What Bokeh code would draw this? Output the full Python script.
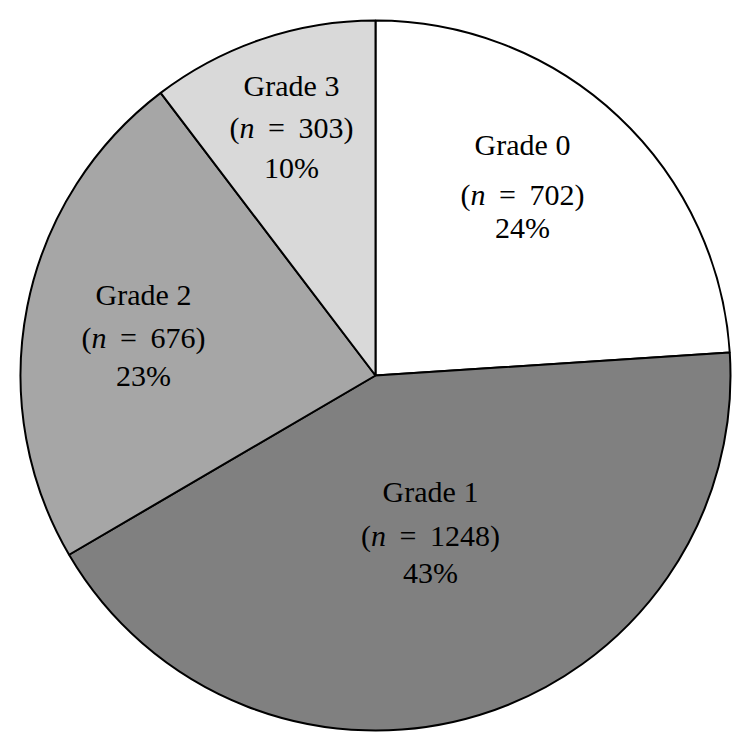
import math
from bokeh.plotting import figure
from bokeh.models import ColumnDataSource, Range1d
from bokeh.core.properties import value
from bokeh.embed import file_html
from bokeh.resources import INLINE

# ---- data ----
grades = ["Grade 0", "Grade 1", "Grade 2", "Grade 3"]
counts = [702, 1248, 676, 303]
percents = ["24%", "43%", "23%", "10%"]
colors = ["#ffffff", "#808080", "#a6a6a6", "#d9d9d9"]

# ---- layout (pixel units relative to pie centre) ----
CX, CY = 375, 375
RADIUS = 355
LABEL_X = [147, 55, -232, -84]
LABEL_BASE = [[144, 194, 227], [491, 535, 572], [294, 337, 375], [85, 127, 167]]
FONT = "Liberation Serif"
FS = 30

total = sum(counts)
starts, ends = [], []
a = math.pi / 2
for c in counts:
    sweep = 2 * math.pi * c / total
    starts.append(a)
    ends.append(a - sweep)
    a -= sweep

p = figure(width=735, height=735, output_backend="svg", toolbar_location=None,
           x_range=Range1d(-375, 360), y_range=Range1d(-360, 375),
           min_border=0, outline_line_color=None,
           background_fill_color="white", border_fill_color="white")
p.axis.visible = False
p.grid.visible = False

wsrc = ColumnDataSource(dict(start=starts, end=ends, color=colors))
p.wedge(x=0, y=0, radius=RADIUS, start_angle="start", end_angle="end",
        direction="clock", fill_color="color", line_color="black",
        line_width=2, source=wsrc)

def dy(Y):
    return CY - Y

# centered lines: grade name and percent
cx, cy, ct = [], [], []
for i, g in enumerate(grades):
    cx += [LABEL_X[i], LABEL_X[i]]
    cy += [dy(LABEL_BASE[i][0]), dy(LABEL_BASE[i][2])]
    ct += [g, percents[i]]
p.text(x=cx, y=cy, text=ct, text_font=value(FONT), text_font_size=value(f"{FS}px"),
       text_align="center", text_baseline="alphabetic", text_color="black")

# (n = X) line with italic n, built from pieces
W_PAREN, W_N, W_SP, W_EQ, W_DIG = 0.333, 0.5, 0.25, 0.564, 0.5
EXTRA = 0.2  # reference typesetting spaces the '=' a little wider
px_, py_, pt_, po_ = [], [], [], []
ix_, iy_, it_, io_ = [], [], [], []
for i, c in enumerate(counts):
    w_rest = W_SP * 2 + W_EQ + W_DIG * len(str(c)) + W_PAREN + 2 * EXTRA
    total_w = (W_PAREN + W_N + w_rest) * FS
    left = -total_w / 2
    y = dy(LABEL_BASE[i][1])
    px_.append(LABEL_X[i]); py_.append(y); pt_.append("("); po_.append(left)
    ix_.append(LABEL_X[i]); iy_.append(y); it_.append("n"); io_.append(left + W_PAREN * FS)
    x_eq = left + (W_PAREN + W_N + W_SP + EXTRA) * FS
    px_.append(LABEL_X[i]); py_.append(y); pt_.append("="); po_.append(x_eq)
    x_num = x_eq + (W_EQ + W_SP + EXTRA) * FS
    px_.append(LABEL_X[i]); py_.append(y); pt_.append(f"{c})"); po_.append(x_num)

p.text(x=px_, y=py_, text=pt_, x_offset=po_, text_font=value(FONT),
       text_font_size=value(f"{FS}px"), text_align="left",
       text_baseline="alphabetic", text_color="black")
p.text(x=ix_, y=iy_, text=it_, x_offset=io_, text_font=value(FONT),
       text_font_size=value(f"{FS}px"), text_font_style="italic", text_align="left",
       text_baseline="alphabetic", text_color="black")

open("out.html", "w").write(file_html(p, INLINE))
